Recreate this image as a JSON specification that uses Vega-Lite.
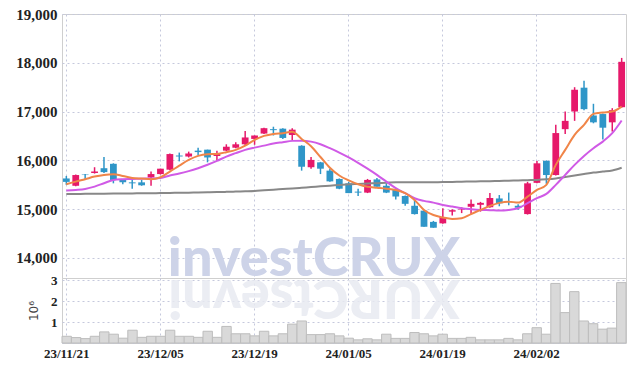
{
  "$schema": "https://vega.github.io/schema/vega-lite/v6.json",
  "padding": {"left": 0, "top": 6, "right": 8, "bottom": 0},
  "background": "white",
  "bounds": "flush",
  "config": {
    "view": {"stroke": "#cfcfcf", "strokeWidth": 1},
    "axis": {
      "labelFont": "Liberation Sans Narrow",
      "labelFontSize": 14,
      "labelFontWeight": "bold",
      "labelColor": "#222222",
      "labelOverlap": false,
      "domain": false,
      "ticks": false,
      "gridColor": "#c5c8dc",
      "gridDash": [2, 3],
      "gridWidth": 1
    }
  },
  "datasets": {
    "k": [
      {"d": "23/11/21", "o": 15630, "h": 15680, "l": 15500, "c": 15560, "v": 0.32, "m5": 15510, "m20": 15381, "m60": 15310},
      {"d": "23/11/22", "o": 15480, "h": 15710, "l": 15470, "c": 15700, "v": 0.26, "m5": 15565, "m20": 15395, "m60": 15312},
      {"d": "23/11/23", "o": 15710, "h": 15720, "l": 15610, "c": 15700, "v": 0.21, "m5": 15615, "m20": 15416, "m60": 15314},
      {"d": "23/11/24", "o": 15740, "h": 15860, "l": 15730, "c": 15770, "v": 0.32, "m5": 15668, "m20": 15463, "m60": 15316},
      {"d": "23/11/27", "o": 15840, "h": 16070, "l": 15740, "c": 15760, "v": 0.53, "m5": 15703, "m20": 15532, "m60": 15318},
      {"d": "23/11/28", "o": 15930, "h": 15940, "l": 15530, "c": 15600, "v": 0.42, "m5": 15717, "m20": 15600, "m60": 15320},
      {"d": "23/11/29", "o": 15610, "h": 15620, "l": 15510, "c": 15550, "v": 0.23, "m5": 15682, "m20": 15615, "m60": 15322},
      {"d": "23/11/30", "o": 15550, "h": 15620, "l": 15420, "c": 15530, "v": 0.61, "m5": 15641, "m20": 15620, "m60": 15324},
      {"d": "23/12/01", "o": 15550, "h": 15600, "l": 15480, "c": 15490, "v": 0.27, "m5": 15627, "m20": 15625, "m60": 15326},
      {"d": "23/12/04", "o": 15650, "h": 15770, "l": 15480, "c": 15720, "v": 0.32, "m5": 15615, "m20": 15630, "m60": 15328},
      {"d": "23/12/05", "o": 15720, "h": 15830, "l": 15710, "c": 15830, "v": 0.32, "m5": 15655, "m20": 15640, "m60": 15330},
      {"d": "23/12/06", "o": 15810, "h": 16140, "l": 15800, "c": 16130, "v": 0.61, "m5": 15770, "m20": 15690, "m60": 15333},
      {"d": "23/12/07", "o": 16100, "h": 16160, "l": 15980, "c": 16080, "v": 0.32, "m5": 15893, "m20": 15730, "m60": 15336},
      {"d": "23/12/08", "o": 16080, "h": 16180, "l": 16060, "c": 16140, "v": 0.32, "m5": 16010, "m20": 15780, "m60": 15339},
      {"d": "23/12/11", "o": 16200, "h": 16260, "l": 16110, "c": 16170, "v": 0.27, "m5": 16092, "m20": 15840, "m60": 15342},
      {"d": "23/12/12", "o": 16220, "h": 16220, "l": 15960, "c": 16060, "v": 0.56, "m5": 16127, "m20": 15910, "m60": 15345},
      {"d": "23/12/13", "o": 16090, "h": 16200, "l": 16000, "c": 16130, "v": 0.27, "m5": 16133, "m20": 15990, "m60": 15350},
      {"d": "23/12/14", "o": 16200, "h": 16330, "l": 16190, "c": 16280, "v": 0.79, "m5": 16168, "m20": 16078, "m60": 15355},
      {"d": "23/12/15", "o": 16260, "h": 16370, "l": 16250, "c": 16330, "v": 0.44, "m5": 16215, "m20": 16148, "m60": 15362},
      {"d": "23/12/18", "o": 16330, "h": 16600, "l": 16300, "c": 16470, "v": 0.44, "m5": 16303, "m20": 16215, "m60": 15368},
      {"d": "23/12/19", "o": 16440, "h": 16510, "l": 16320, "c": 16510, "v": 0.34, "m5": 16420, "m20": 16262, "m60": 15375},
      {"d": "23/12/20", "o": 16550, "h": 16670, "l": 16540, "c": 16660, "v": 0.56, "m5": 16502, "m20": 16303, "m60": 15388},
      {"d": "23/12/21", "o": 16640, "h": 16690, "l": 16510, "c": 16620, "v": 0.34, "m5": 16543, "m20": 16345, "m60": 15400},
      {"d": "23/12/22", "o": 16650, "h": 16660, "l": 16440, "c": 16460, "v": 0.44, "m5": 16557, "m20": 16373, "m60": 15413},
      {"d": "23/12/26", "o": 16520, "h": 16660, "l": 16420, "c": 16630, "v": 0.90, "m5": 16585, "m20": 16400, "m60": 15426},
      {"d": "23/12/27", "o": 16300, "h": 16310, "l": 15790, "c": 15870, "v": 1.05, "m5": 16440, "m20": 16405, "m60": 15440},
      {"d": "23/12/28", "o": 15860, "h": 16070, "l": 15830, "c": 16010, "v": 0.40, "m5": 16290, "m20": 16385, "m60": 15454},
      {"d": "24/01/02", "o": 15960, "h": 15970, "l": 15720, "c": 15830, "v": 0.40, "m5": 16070, "m20": 16332, "m60": 15468},
      {"d": "24/01/03", "o": 15790, "h": 15830, "l": 15560, "c": 15570, "v": 0.44, "m5": 15850, "m20": 16250, "m60": 15482},
      {"d": "24/01/04", "o": 15620, "h": 15630, "l": 15410, "c": 15420, "v": 0.34, "m5": 15690, "m20": 16160, "m60": 15496},
      {"d": "24/01/05", "o": 15530, "h": 15560, "l": 15330, "c": 15330, "v": 0.23, "m5": 15590, "m20": 16060, "m60": 15510},
      {"d": "24/01/08", "o": 15360, "h": 15420, "l": 15270, "c": 15340, "v": 0.15, "m5": 15510, "m20": 15950, "m60": 15518},
      {"d": "24/01/09", "o": 15340, "h": 15620, "l": 15330, "c": 15600, "v": 0.20, "m5": 15460, "m20": 15830, "m60": 15526},
      {"d": "24/01/10", "o": 15610, "h": 15640, "l": 15460, "c": 15460, "v": 0.15, "m5": 15440, "m20": 15703, "m60": 15534},
      {"d": "24/01/11", "o": 15480, "h": 15530, "l": 15330, "c": 15340, "v": 0.42, "m5": 15420, "m20": 15565, "m60": 15542},
      {"d": "24/01/12", "o": 15400, "h": 15410, "l": 15200, "c": 15260, "v": 0.22, "m5": 15395, "m20": 15430, "m60": 15550},
      {"d": "24/01/15", "o": 15270, "h": 15280, "l": 15070, "c": 15110, "v": 0.22, "m5": 15330, "m20": 15328, "m60": 15551},
      {"d": "24/01/16", "o": 15070, "h": 15200, "l": 14890, "c": 14900, "v": 0.50, "m5": 15190, "m20": 15225, "m60": 15552},
      {"d": "24/01/17", "o": 14970, "h": 14980, "l": 14640, "c": 14640, "v": 0.44, "m5": 14985, "m20": 15170, "m60": 15553},
      {"d": "24/01/18", "o": 14740, "h": 14760, "l": 14620, "c": 14620, "v": 0.34, "m5": 14880, "m20": 15135, "m60": 15554},
      {"d": "24/01/19", "o": 14710, "h": 15020, "l": 14700, "c": 14840, "v": 0.42, "m5": 14830, "m20": 15088, "m60": 15555},
      {"d": "24/01/22", "o": 14950, "h": 15000, "l": 14870, "c": 14980, "v": 0.22, "m5": 14800, "m20": 15053, "m60": 15559},
      {"d": "24/01/23", "o": 14990, "h": 15040, "l": 14920, "c": 15000, "v": 0.22, "m5": 14815, "m20": 15020, "m60": 15563},
      {"d": "24/01/24", "o": 15050, "h": 15200, "l": 14900, "c": 15110, "v": 0.27, "m5": 14900, "m20": 15000, "m60": 15567},
      {"d": "24/01/25", "o": 15090, "h": 15150, "l": 14950, "c": 15130, "v": 0.15, "m5": 14985, "m20": 14985, "m60": 15571},
      {"d": "24/01/26", "o": 15040, "h": 15330, "l": 15030, "c": 15230, "v": 0.15, "m5": 15067, "m20": 14980, "m60": 15575},
      {"d": "24/01/29", "o": 15220, "h": 15290, "l": 15060, "c": 15120, "v": 0.15, "m5": 15130, "m20": 14972, "m60": 15580},
      {"d": "24/01/30", "o": 15160, "h": 15340, "l": 15080, "c": 15150, "v": 0.22, "m5": 15155, "m20": 14985, "m60": 15585},
      {"d": "24/01/31", "o": 15070, "h": 15100, "l": 14990, "c": 15030, "v": 0.15, "m5": 15135, "m20": 15020, "m60": 15590},
      {"d": "24/02/01", "o": 14900, "h": 15560, "l": 14890, "c": 15530, "v": 0.44, "m5": 15258, "m20": 15122, "m60": 15595},
      {"d": "24/02/02", "o": 15540, "h": 15990, "l": 15530, "c": 15940, "v": 0.73, "m5": 15395, "m20": 15225, "m60": 15600},
      {"d": "24/02/05", "o": 15990, "h": 16000, "l": 15520, "c": 15700, "v": 0.42, "m5": 15498, "m20": 15313, "m60": 15612},
      {"d": "24/02/06", "o": 15700, "h": 16730, "l": 15690, "c": 16560, "v": 2.84, "m5": 15908, "m20": 15498, "m60": 15630},
      {"d": "24/02/07", "o": 16640, "h": 17000, "l": 16540, "c": 16810, "v": 1.45, "m5": 16215, "m20": 15703, "m60": 15660},
      {"d": "24/02/08", "o": 17000, "h": 17500, "l": 16810, "c": 17450, "v": 2.45, "m5": 16523, "m20": 15908, "m60": 15690},
      {"d": "24/02/13", "o": 17490, "h": 17630, "l": 17030, "c": 17050, "v": 1.05, "m5": 16728, "m20": 16092, "m60": 15720},
      {"d": "24/02/14", "o": 16920, "h": 17160, "l": 16760, "c": 16780, "v": 0.92, "m5": 16953, "m20": 16250, "m60": 15750},
      {"d": "24/02/15", "o": 16950, "h": 16960, "l": 16430, "c": 16670, "v": 0.66, "m5": 16980, "m20": 16385, "m60": 15772},
      {"d": "24/02/16", "o": 16780, "h": 17070, "l": 16590, "c": 17030, "v": 0.71, "m5": 17000, "m20": 16558, "m60": 15795},
      {"d": "24/02/19", "o": 17090, "h": 18100, "l": 17080, "c": 18020, "v": 2.88, "m5": 17103, "m20": 16817, "m60": 15850}
    ],
    "wm": [{"t": "investCRUX", "r": "XURCtsevni"}]
  },
  "spacing": 0,
  "resolve": {"scale": {"x": "independent"}},
  "vconcat": [
    {
      "width": 564,
      "height": 264,
      "layer": [
        {
          "data": {"name": "wm"},
          "mark": {"type": "text", "font": "Lato", "fontWeight": 900, "fontSize": 54, "color": "#cdd3e8", "align": "center", "baseline": "alphabetic", "dx": 3},
          "encoding": {
            "x": {"datum": "23/12/28", "type": "nominal"},
            "y": {"datum": 13640, "type": "quantitative"},
            "text": {"field": "t"}
          }
        },
        {
          "data": {"name": "k"},
          "mark": {"type": "rule", "strokeWidth": 1.5},
          "encoding": {
            "x": {
              "field": "d", "type": "nominal",
              "scale": {"type": "band", "paddingInner": 0.28, "paddingOuter": 0.1},
              "axis": {
                "title": null, "labels": false, "grid": true, "bandPosition": 0.5,
                "values": ["23/11/21", "23/12/05", "23/12/19", "24/01/05", "24/01/19", "24/02/02"],
                "minExtent": 0, "maxExtent": 0
              }
            },
            "y": {
              "field": "l", "type": "quantitative",
              "scale": {"domain": [13590, 19000], "nice": false, "zero": false},
              "axis": {
                "title": null, "values": [14000, 15000, 16000, 17000, 18000, 19000], "format": ",d",
                "grid": true, "labelPadding": 5, "labelFontSize": 15, "minExtent": 61, "maxExtent": 61
              }
            },
            "y2": {"field": "h"},
            "color": {"condition": {"test": "datum.c >= datum.o", "value": "#e6196a"}, "value": "#2f96c8"}
          }
        },
        {
          "data": {"name": "k"},
          "mark": {"type": "bar"},
          "encoding": {
            "x": {"field": "d", "type": "nominal"},
            "y": {"field": "o", "type": "quantitative"},
            "y2": {"field": "c"},
            "color": {"condition": {"test": "datum.c >= datum.o", "value": "#e6196a"}, "value": "#2f96c8"}
          }
        },
        {
          "data": {"name": "k"},
          "mark": {"type": "line", "color": "#888888", "strokeWidth": 2, "interpolate": "monotone"},
          "encoding": {"x": {"field": "d", "type": "nominal"}, "y": {"field": "m60", "type": "quantitative"}}
        },
        {
          "data": {"name": "k"},
          "mark": {"type": "line", "color": "#d05ae6", "strokeWidth": 2, "interpolate": "monotone"},
          "encoding": {"x": {"field": "d", "type": "nominal"}, "y": {"field": "m20", "type": "quantitative"}}
        },
        {
          "data": {"name": "k"},
          "mark": {"type": "line", "color": "#f08548", "strokeWidth": 2, "interpolate": "monotone"},
          "encoding": {"x": {"field": "d", "type": "nominal"}, "y": {"field": "m5", "type": "quantitative"}}
        }
      ]
    },
    {
      "width": 564,
      "height": 65,
      "layer": [
        {
          "data": {"name": "k"},
          "mark": {"type": "bar", "fill": "#d9d9d9", "stroke": "#bdbdbd", "strokeWidth": 1},
          "encoding": {
            "x": {
              "field": "d", "type": "nominal",
              "scale": {"type": "band", "paddingInner": 0, "paddingOuter": 0},
              "axis": {
                "title": null, "grid": true, "bandPosition": 0.5, "labelAngle": 0, "labelAlign": "center",
                "labelBaseline": "top", "labelPadding": 4, "labelFontSize": 13,
                "values": ["23/11/21", "23/12/05", "23/12/19", "24/01/05", "24/01/19", "24/02/02"]
              }
            },
            "y": {
              "field": "v", "type": "quantitative",
              "scale": {"domain": [0, 3.1], "nice": false},
              "axis": {
                "title": "10⁶", "tickCount": 3, "grid": true, "labelPadding": 5, "labelOverlap": false,
                "labelExpr": "datum.value == 0 ? '' : datum.label",
                "labelSeparation": 0, "labelFontSize": 13, "labelBaseline": "middle",
                "titleFont": "DejaVu Sans", "titleFontSize": 12, "titleFontWeight": "normal", "titleColor": "#444444",
                "titlePadding": 6, "minExtent": 16, "maxExtent": 16
              }
            }
          }
        },
        {
          "data": {"name": "wm"},
          "mark": {"type": "text", "font": "Lato", "fontWeight": 900, "fontSize": 54, "color": "#e8eaf2", "opacity": 0.85, "align": "center", "baseline": "alphabetic", "angle": 180, "dx": -3},
          "encoding": {
            "x": {"datum": "23/12/28", "type": "nominal"},
            "y": {"datum": 3.0, "type": "quantitative"},
            "text": {"field": "r"}
          }
        }
      ]
    }
  ]
}
